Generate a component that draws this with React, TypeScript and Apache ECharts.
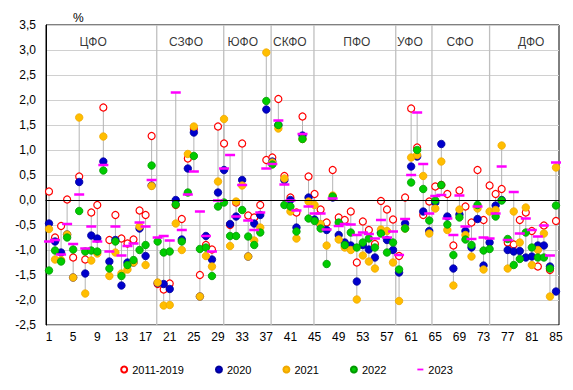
import React, { useEffect, useRef } from "react";
import * as echarts from "echarts";

const FONT = "Liberation Sans, Arial, sans-serif";

const regions: string[] = Array.from({ length: 85 }, (_, i) => String(i + 1));

const avg2011_2019: number[] = [
  0.17, -0.75, -0.52, 0.01, -1.15, 0.47, -1.19, -0.25, -0.10, 1.85,
  -0.80, -0.30, -0.77, -0.87, -0.79, -0.21, -0.30, 1.28, -1.68, -1.79,
  -1.67, -0.10, -0.38, 0.83, 1.42, -1.50, -0.90, -0.99, 1.47, 1.13,
  -0.50, -0.05, 1.13, -0.31, -0.35, -0.10, 0.80, 0.85, 2.02, 0.48,
  0.05, -0.25, 1.67, 0.47, 0.12, -0.19, -0.45, 0.60, -0.35, -0.40,
  -0.23, -1.25, -0.43, -0.60, -0.88, -0.02, -0.19, -0.39, -1.12, 0.05,
  1.83, 1.05, -0.30, -0.03, 0.27, 0.30, 0.12, -0.91, 0.19, -0.13,
  -0.45, 0.60, -0.40, 0.29, 0.12, 0.22, -0.85, -0.89, -0.40, -0.25,
  -0.62, -1.33, -0.51, -1.40, -0.42,
];

const y2020: number[] = [
  -0.47, -0.83, -1.05, -0.69, -1.55, 0.36, -1.47, -0.71, -0.77, 0.77,
  -1.23, -0.80, -1.71, -1.25, -1.25, -0.57, -1.12, 0.29, -1.66, -1.68,
  -1.78, 0.00, -0.79, 0.63, 1.35, -1.93, -0.72, -1.19, 0.15, 0.60,
  -0.48, -0.33, 0.40, -1.13, -0.47, -0.30, 1.81, 0.77, 1.50, 0.40,
  0.00, -0.55, 1.29, 0.05, -0.39, -0.50, -0.60, 0.05, -0.70, -0.85,
  -0.91, -1.63, -0.90, -0.99, -1.15, -0.65, -0.80, -1.00, -1.45, -0.47,
  0.67, 0.87, -0.23, -0.62, -0.05, 1.12, -0.33, -1.37, -0.29, -0.62,
  -0.95, -0.38, -1.31, -0.85, -0.11, 0.00, -1.00, -1.03, -1.02, -1.15,
  -1.13, -0.91, -0.91, -1.33, -1.83,
];

const y2021: number[] = [
  -0.58, -1.19, -1.20, -0.69, -1.55, 1.65, -1.87, -1.21, -1.07, 1.27,
  -1.52, -1.05, -1.47, -1.39, -1.25, -0.53, -1.30, 0.28, -1.65, -2.11,
  -2.10, -0.47, -1.00, 0.92, 1.47, -1.93, -1.12, -1.33, 0.37, 1.62,
  -0.92, -0.03, 0.29, -1.13, -0.81, -0.55, 2.95, 0.75, 1.43, 0.43,
  -0.23, -0.77, 1.22, -0.03, -0.10, -0.48, -0.91, 0.09, -0.79, -0.95,
  -1.00, -1.99, -1.11, -1.23, -1.37, -0.59, -0.62, -1.25, -2.02, -0.57,
  0.85, 0.90, 0.48, -0.67, -0.17, 0.77, -0.60, -1.71, -0.19, -0.70,
  -1.13, -0.17, -1.39, -0.23, -0.20, 1.09, -1.37, -0.23, -0.85, -0.15,
  -1.30, -1.00, -0.67, -1.93, 0.65,
];

const y2022: number[] = [
  -1.41, -1.01, -1.23, -0.75, -0.99, -0.22, -1.03, -1.01, -1.03, 0.59,
  -1.37, -0.83, -1.52, -1.30, -1.20, -1.00, -0.90, 0.69, -0.83, -1.05,
  -1.03, -0.09, -0.83, 0.15, 0.88, -0.98, -0.95, -1.52, -0.13, -0.05,
  -0.72, -0.72, -0.20, -0.73, -0.90, -0.65, 1.98, 0.71, 1.50, -0.10,
  -0.13, -0.63, 1.22, -0.37, -0.42, -0.57, -1.28, 0.07, -0.45, -0.90,
  -0.65, -0.95, -0.85, -0.77, -0.95, -0.67, -1.05, -0.85, -1.39, -0.57,
  0.35, 1.00, 0.22, -0.41, -0.01, 0.30, -0.49, -1.10, -0.35, -0.79,
  -0.90, -0.10, -1.01, -0.98, -0.33, -0.01, -0.78, -1.30, -1.18, -0.65,
  -0.95, -1.15, -1.15, -1.37, -0.11,
];

const y2023: number[] = [
  -0.83, -0.80, -1.09, -0.48, -0.88, 0.11, -0.97, -0.53, -0.83, 0.70,
  -1.03, -0.53, -1.11, -0.92, -0.87, -0.45, -0.53, 0.40, -0.75, -0.72,
  -0.81, 2.15, -0.60, 0.11, 0.57, -0.23, -0.72, -1.03, -0.01, 0.63,
  0.90, -0.33, 0.30, -0.41, -0.60, -0.25, 0.63, 0.72, 1.59, 0.31,
  -0.01, -0.21, 1.32, -0.13, -0.27, -0.27, -0.59, 0.03, -0.52, -0.48,
  -0.49, -0.70, -0.65, -0.68, -0.77, -0.40, -0.75, -0.63, -1.10, -0.38,
  0.50, 1.75, 0.72, -0.27, 0.08, 0.10, -0.37, -0.70, 0.09, -0.53,
  -0.78, -0.13, -0.75, -0.77, -0.27, 0.67, -0.80, 0.16, -0.67, -0.37,
  -0.60, -0.73, -0.51, -1.11, 0.75,
];

const yTicks = { min: -2.5, max: 3.5, step: 0.5 };

// boundaries between federal districts (in region-number units)
const districtSeparators: number[] = [18.85, 29.95, 37.8, 44.9, 58.45, 64.45, 74.0];
const districtNames: string[] = ["ЦФО", "СЗФО", "ЮФО", "СКФО", "ПФО", "УФО", "СФО", "ДФО"];
const districtLabelX: number[] = [8.3, 23.7, 33.1, 40.9, 52.0, 60.8, 69.1, 80.9];
const districtLabelY = 3.16;

const seriesNames = ["2011-2019", "2020", "2021", "2022", "2023"];

export default function App() {
  const ref = useRef<HTMLDivElement>(null);

  useEffect(() => {
    if (!ref.current) return;
    const chart = echarts.init(ref.current, undefined, { renderer: "svg" });

    const all = [avg2011_2019, y2020, y2021, y2022, y2023];
    const rangeData = regions.map((_, i) => {
      const vals = all.map((a) => a[i]);
      return [i, Math.min(...vals), Math.max(...vals)];
    });

    const dot = (name: string, data: number[], color: string, border: string) => ({
      name,
      type: "scatter",
      xAxisIndex: 0,
      yAxisIndex: 0,
      data,
      symbol: "circle",
      symbolSize: 7.5,
      itemStyle: { color, borderColor: border, borderWidth: 0.8, opacity: 1 },
      z: 3,
    });

    const option: any = {
      animation: false,
      backgroundColor: "#fff",
      textStyle: { fontFamily: FONT },
      title: {
        text: "%",
        left: 68,
        top: 7,
        textStyle: { fontSize: 12, fontWeight: "normal", color: "#000", fontFamily: FONT },
      },
      grid: {
        left: 46,
        right: 14,
        top: 25,
        bottom: 65,
        show: true,
        borderColor: "#000",
        borderWidth: 1,
        backgroundColor: "transparent",
      },
      legend: {
        top: 359,
        left: "center",
        itemWidth: 6,
        itemHeight: 6,
        itemGap: 31,
        textStyle: { fontSize: 11, color: "#000", fontFamily: FONT },
        data: [
          { name: seriesNames[0], icon: "circle" },
          { name: seriesNames[1], icon: "circle" },
          { name: seriesNames[2], icon: "circle" },
          { name: seriesNames[3], icon: "circle" },
          { name: seriesNames[4], icon: "path://M0,0H10V3H0Z" },
        ],
      },
      xAxis: [
        {
          type: "category",
          data: regions,
          boundaryGap: true,
          axisLine: { show: true, lineStyle: { color: "#000", width: 1 } },
          axisTick: { show: false },
          axisLabel: {
            interval: 3,
            color: "#000",
            fontSize: 12,
            fontFamily: FONT,
            margin: 6,
          },
          splitLine: { show: false },
        },
        {
          type: "value",
          min: 0.5,
          max: 85.5,
          show: false,
          splitLine: { show: false },
        },
      ],
      yAxis: {
        type: "value",
        min: yTicks.min,
        max: yTicks.max,
        interval: yTicks.step,
        axisLine: { show: true, lineStyle: { color: "#000", width: 1 } },
        axisTick: { show: false },
        axisLabel: {
          color: "#000",
          fontSize: 12,
          fontFamily: FONT,
          margin: 10,
          formatter: (v: number) => v.toFixed(1).replace(".", ","),
        },
        splitLine: { show: true, lineStyle: { color: "#D0D0D0", width: 1 } },
      },
      series: [
        {
          name: "separators",
          type: "custom",
          xAxisIndex: 1,
          yAxisIndex: 0,
          silent: true,
          data: districtSeparators.map((x) => [x]),
          encode: { x: 0 },
          renderItem: (_params: any, api: any) => {
            const x = api.value(0);
            const p1 = api.coord([x, yTicks.max]);
            const p2 = api.coord([x, yTicks.min]);
            return {
              type: "line",
              shape: { x1: p1[0], y1: p1[1], x2: p2[0], y2: p2[1] },
              style: { stroke: "#BFBFBF", lineWidth: 1.3 },
            };
          },
          markLine: {
            silent: true,
            symbol: "none",
            label: { show: false },
            lineStyle: { color: "#000", width: 1, type: "solid" },
            data: [{ yAxis: 0 }],
          },
          z: 1,
        },
        {
          name: "range",
          type: "custom",
          xAxisIndex: 0,
          yAxisIndex: 0,
          silent: true,
          data: rangeData,
          encode: { x: 0, y: [1, 2] },
          renderItem: (_params: any, api: any) => {
            const x = api.value(0);
            const p1 = api.coord([x, api.value(1)]);
            const p2 = api.coord([x, api.value(2)]);
            return {
              type: "line",
              shape: { x1: p1[0], y1: p1[1], x2: p2[0], y2: p2[1] },
              style: { stroke: "#B4B4B4", lineWidth: 1 },
            };
          },
          z: 2,
        },
        {
          name: seriesNames[0],
          type: "scatter",
          xAxisIndex: 0,
          yAxisIndex: 0,
          data: avg2011_2019,
          symbol: "circle",
          symbolSize: 7,
          itemStyle: { color: "#fff", borderColor: "#FF0000", borderWidth: 1.2, opacity: 1 },
          z: 3,
        },
        dot(seriesNames[1], y2020, "#0000CC", "#00009A"),
        dot(seriesNames[2], y2021, "#FFBE00", "#F0A800"),
        dot(seriesNames[3], y2022, "#00CC00", "#009A00"),
        {
          name: seriesNames[4],
          type: "scatter",
          xAxisIndex: 0,
          yAxisIndex: 0,
          data: y2023,
          symbol: "rect",
          symbolSize: [10, 2.5],
          itemStyle: { color: "#FF00FF", opacity: 1 },
          z: 4,
        },
        {
          name: "districts",
          type: "scatter",
          xAxisIndex: 1,
          yAxisIndex: 0,
          silent: true,
          symbolSize: 0,
          data: districtNames.map((n, i) => ({ name: n, value: [districtLabelX[i], districtLabelY] })),
          label: {
            show: true,
            position: "inside",
            formatter: "{b}",
            color: "#000",
            fontSize: 12,
            fontFamily: FONT,
          },
          z: 5,
        },
      ],
    };

    chart.setOption(option);
    return () => chart.dispose();
  }, []);

  return (
    <div
      ref={ref}
      style={{ position: "fixed", left: 0, top: 0, width: 573, height: 390, background: "#fff" }}
    />
  );
}
